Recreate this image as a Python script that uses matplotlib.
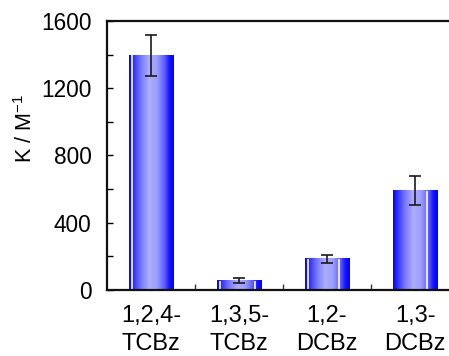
import matplotlib
matplotlib.use("Agg")
import matplotlib.pyplot as plt
import numpy as np
from matplotlib.colors import LinearSegmentedColormap

plt.rcParams['font.family'] = ['Liberation Sans', 'DejaVu Sans']

categories = ["1,2,4-\nTCBz", "1,3,5-\nTCBz", "1,2-\nDCBz", "1,3-\nDCBz"]
values = [1395, 55, 185, 590]
errors = [122, 15, 22, 85]
white_lines = [[0.06], [0.06, 0.86], [0.06, 0.78], [0.78]]

fig = plt.figure(figsize=(4.49, 3.56), dpi=100)
ax = fig.add_axes([0.238, 0.1854, 0.762, 0.756])

cmap = LinearSegmentedColormap.from_list("bargrad", [
    (0.00, (0.0, 0.0, 1.0)),
    (0.08, (0.15, 0.15, 1.0)),
    (0.25, (0.45, 0.45, 1.0)),
    (0.45, (0.68, 0.68, 1.0)),
    (0.62, (0.62, 0.62, 1.0)),
    (0.80, (0.35, 0.35, 1.0)),
    (0.90, (0.08, 0.08, 1.0)),
    (1.00, (0.0, 0.0, 1.0)),
])

width = 0.5
x = np.arange(len(categories))
grad = np.linspace(0, 1, 256).reshape(1, -1)
for xi, v, wl in zip(x, values, white_lines):
    left = xi - width / 2
    ax.imshow(grad, cmap=cmap, aspect='auto', extent=(left, left + width, 0, v),
              zorder=1, interpolation='bilinear')
    for p in wl:
        ax.plot([left + p * width] * 2, [0, v], color='white', lw=1.2, zorder=2,
                solid_capstyle='butt')

ax.errorbar(x, values, yerr=errors, fmt='none', ecolor='#1a1a1a', elinewidth=1.2,
            capsize=4.2, capthick=1.2, zorder=3)

ax.set_xlim(-0.5, 3.386)
ax.set_ylim(0, 1600)
ax.set_yticks([0, 400, 800, 1200, 1600])
ax.set_yticks([200, 600, 1000, 1400], minor=True)
ax.set_xticks(x)
ax.set_xticklabels(categories, fontsize=17, linespacing=1.35)
ax.set_xticks([0.5, 1.5, 2.5], minor=True)
ax.tick_params(axis='x', which='major', length=0, pad=11)
ax.tick_params(axis='x', which='minor', direction='in', length=4, width=1, colors='#333333')
ax.tick_params(axis='y', which='both', direction='in', length=4, width=1, labelsize=16.3, pad=11)
ax.set_ylabel(r'K / M$^{\mathregular{-1}}$', fontsize=15.5)
ax.yaxis.set_label_coords(-0.205, 0.60)

for s in ['left', 'bottom', 'top']:
    ax.spines[s].set_linewidth(1.6)
    ax.spines[s].set_color('#111111')
ax.spines['right'].set_visible(False)

fig.savefig("out.png", dpi=100)
